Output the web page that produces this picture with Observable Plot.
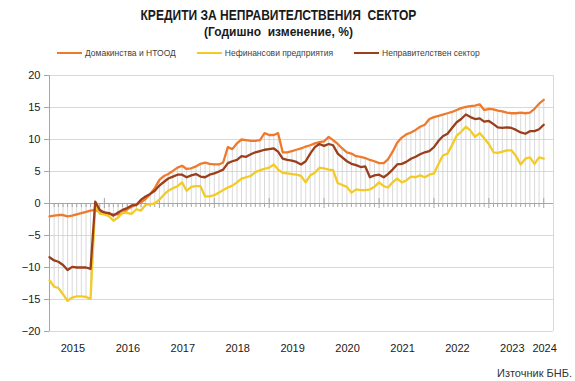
<!DOCTYPE html>
<html>
<head>
<meta charset="utf-8">
<script src="https://cdn.jsdelivr.net/npm/d3@7"></script>
<script src="https://cdn.jsdelivr.net/npm/@observablehq/plot@0.6"></script>
<style>
  body { margin: 0; background: #fff; font-family: "Liberation Sans", Arial, sans-serif; }
  #wrap { position: relative; width: 575px; height: 381px; overflow: hidden; background: #fff; }
  #head { position: relative; height: 65px; }
  .t1 { position: absolute; left: 0; width: 557px; top: 7px; text-align: center; font-weight: bold;
        font-size: 14px; line-height: 16px; color: #1a1a1a; transform: scaleX(0.86); transform-origin: 278px 0; }
  .t2 { position: absolute; left: 0; width: 557px; top: 25px; text-align: center; font-weight: bold;
        font-size: 12px; line-height: 14px; color: #1a1a1a; }
  .legend { position: absolute; left: 57px; top: 47px; display: flex; gap: 21px; font-size: 8.5px; line-height: 12px; color: #404040; }
  .legend span.item { display: flex; align-items: center; gap: 3px; }
  .legend span.sw { display: inline-block; width: 25px; height: 2px; }
  #src { height: 16px; text-align: right; padding-right: 3px; font-size: 11px; line-height: 17px; color: #333; }
</style>
</head>
<body>
<div id="wrap">
  <div id="head">
    <div class="t1">КРЕДИТИ ЗА НЕПРАВИТЕЛСТВЕНИЯ &nbsp;СЕКТОР</div>
    <div class="t2">(Годишно &nbsp;изменение, %)</div>
    <div class="legend" id="legend"></div>
  </div>
  <div id="chart"></div>
  <div id="src">Източник БНБ.</div>
</div>
<script>
// Series names and colours
const seriesNames = ["Домакинства и НТООД", "Нефинансови предприятия", "Неправителствен сектор"];
const seriesColors = ["#EE7B2D", "#F2CB26", "#9A3E1C"];

// Monthly annual growth, %, January 2015 – January 2024
const households = [
  -2.0, -1.9, -1.8, -1.8, -2.0, -1.9, -1.7, -1.5, -1.3, -1.1, -1.0, -1.3,
  -1.5, -1.6, -1.7, -1.7, -1.5, -0.9, -0.5, -0.2, 0.2, 0.7, 1.5, 2.4,
  3.7, 4.3, 4.6, 5.1, 5.6, 5.9, 5.4, 5.5, 5.8, 6.2, 6.4, 6.2,
  6.1, 6.1, 6.4, 8.8, 8.5, 9.4, 10.0, 9.9, 9.8, 9.8, 9.9, 11.0,
  10.7, 10.7, 11.0, 8.0, 8.0, 8.2, 8.4, 8.6, 8.9, 9.1, 9.4, 9.6,
  9.7, 10.4, 9.9, 9.3, 8.6, 8.0, 7.8, 7.4, 7.3, 7.1, 6.8, 6.6,
  6.3, 6.3, 6.9, 8.1, 9.5, 10.3, 10.8, 11.1, 11.5, 12.0, 12.3, 13.2,
  13.5, 13.7, 13.9, 14.1, 14.3, 14.6, 14.9, 15.1, 15.2, 15.3, 15.5, 14.6,
  14.8, 14.7, 14.5, 14.4, 14.2, 14.1, 14.1, 14.2, 14.1, 14.2, 14.8, 15.6,
  16.2
];
const corporates = [
  -12.0, -13.0, -13.2, -14.2, -15.2, -14.7, -14.5, -14.5, -14.6, -14.9, -0.3, -1.6,
  -1.7, -2.0, -2.7, -2.2, -1.4, -1.5, -1.6, -0.9, -1.1, -0.2, -0.1, 0.0,
  0.6, 1.4, 2.0, 2.4, 2.7, 3.3, 2.0, 2.6, 2.7, 2.7, 1.1, 1.1,
  1.3, 1.7, 2.1, 2.5, 2.8, 3.3, 3.9, 4.1, 4.3, 4.9, 5.2, 5.4,
  5.6, 6.1, 5.3, 4.8, 4.7, 4.6, 4.5, 4.3, 3.3, 4.4, 4.8, 5.6,
  5.5, 5.3, 5.2, 3.2, 2.9, 2.6, 1.7, 2.2, 2.1, 2.1, 2.2, 2.6,
  3.3, 2.7, 2.5, 3.3, 3.9, 3.3, 3.6, 4.2, 4.1, 4.4, 4.1, 4.5,
  4.7, 6.2, 7.5, 7.8, 9.1, 10.6, 11.2, 12.0, 11.4, 10.4, 11.0, 10.2,
  9.3, 8.0, 7.9, 8.1, 8.3, 8.3, 7.4, 6.1, 7.0, 7.2, 6.2, 7.2,
  7.0
];
const nonGovernment = [
  -8.4, -8.9, -9.1, -9.6, -10.4, -9.9, -10.0, -10.0, -10.0, -10.2, 0.3, -1.0,
  -1.4, -1.5, -1.9, -1.4, -1.0, -0.7, -0.3, -0.2, 0.6, 1.1, 1.5, 2.0,
  2.8, 3.4, 3.9, 4.2, 4.5, 4.5, 4.1, 4.4, 4.6, 4.2, 4.1, 4.5,
  4.7, 5.0, 5.3, 6.3, 6.6, 6.8, 7.4, 7.3, 7.7, 8.0, 8.2, 8.4,
  8.5, 8.6, 8.1, 7.0, 6.8, 6.7, 6.5, 6.1, 6.6, 7.8, 8.8, 9.3,
  9.0, 9.3, 9.1, 7.8, 7.2, 6.6, 6.2, 6.0, 5.7, 5.8, 4.1, 4.4,
  4.5, 4.1, 4.6, 5.3, 6.1, 6.2, 6.5, 7.0, 7.3, 7.7, 8.0, 8.2,
  8.8, 9.8, 10.5, 10.9, 11.8, 12.7, 13.2, 13.9, 13.5, 13.2, 13.3, 12.8,
  12.9, 12.4, 11.9, 11.8, 11.9, 11.8, 11.5, 11.1, 10.9, 11.3, 11.3, 11.6,
  12.3
];
const yTicks = [-20, -15, -10, -5, 0, 5, 10, 15, 20];
const yearLabels = [2015, 2016, 2017, 2018, 2019, 2020, 2021, 2022, 2023, 2024];

const seriesValues = [households, corporates, nonGovernment];
const months = d3.utcMonth.range(new Date(Date.UTC(2015, 0, 1)), new Date(Date.UTC(2024, 1, 1)));
const domainStart = months[0];
const domainEnd = new Date(+months[months.length - 1] + 65 * 864e5);

// Long-format table for the lines
const rows = [];
seriesValues.forEach((vals, s) => vals.forEach((v, i) => rows.push({date: months[i], value: v, series: seriesNames[s]})));

// Drop lines: per month, span from lowest to highest value (including the zero axis)
const drops = months.map((m, i) => {
  const vs = seriesValues.map(a => a[i]);
  return {date: m, lo: Math.min(0, ...vs), hi: Math.max(0, ...vs)};
});
const yearStarts = months.filter(m => m.getUTCMonth() === 0);
const minorMonths = months.filter(m => m.getUTCMonth() !== 0);

// Year labels centred on the visible portion of each year
const yearLabelDates = yearLabels.map(y => {
  const a = Math.max(+domainStart, Date.UTC(y, 0, 1));
  const b = Math.min(+domainEnd, Date.UTC(y + 1, 0, 1));
  return new Date((a + b) / 2);
});

// Legend
const lg = document.getElementById("legend");
seriesNames.forEach((n, i) => {
  const it = document.createElement("span"); it.className = "item";
  const sw = document.createElement("span"); sw.className = "sw"; sw.style.background = seriesColors[i];
  const tx = document.createElement("span"); tx.textContent = n;
  it.appendChild(sw); it.appendChild(tx); lg.appendChild(it);
});

const chart = Plot.plot({
  width: 575,
  height: 300,
  marginLeft: 49,
  marginRight: 22,
  marginTop: 10,
  marginBottom: 34,
  style: {fontFamily: "'Liberation Sans', Arial, sans-serif", background: "#fff", color: "#1a1a1a"},
  x: {type: "utc", domain: [domainStart, domainEnd]},
  y: {domain: [-20, 20]},
  color: {domain: seriesNames, range: seriesColors},
  marks: [
    Plot.ruleY(yTicks.filter(t => t !== 0), {stroke: "#d9d9d9", strokeWidth: 1}),
    Plot.ruleX([domainEnd], {stroke: "#d9d9d9", strokeWidth: 1}),
    Plot.ruleX(drops, {x: "date", y1: "lo", y2: "hi", stroke: "#cfcfcf", strokeWidth: 0.8}),
    Plot.ruleY([0], {stroke: "#a6a6a6", strokeWidth: 1}),
    Plot.ruleX(minorMonths, {x: d => d, y1: 0, y2: 0, insetTop: 0, insetBottom: -4, stroke: "#a6a6a6", strokeWidth: 1}),
    Plot.ruleX(yearStarts, {x: d => d, y1: 0, y2: 0, insetTop: -5, insetBottom: -5, stroke: "#a6a6a6", strokeWidth: 1}),
    Plot.ruleX([domainStart], {stroke: "#a6a6a6", strokeWidth: 1}),
    Plot.axisY({ticks: yTicks, tickSize: 5, tickPadding: 4, fontSize: 11, stroke: "#a6a6a6", label: null}),
    Plot.axisX({ticks: yearLabelDates, tickSize: 0, tickPadding: 13, fontSize: 11, dx: -4, tickFormat: d => String(d.getUTCFullYear()), label: null}),
    Plot.line(rows, {x: "date", y: "value", z: "series", stroke: "series", strokeWidth: 2.3, curve: "linear", strokeLinejoin: "round"})
  ]
});
document.getElementById("chart").appendChild(chart);
</script>
</body>
</html>
